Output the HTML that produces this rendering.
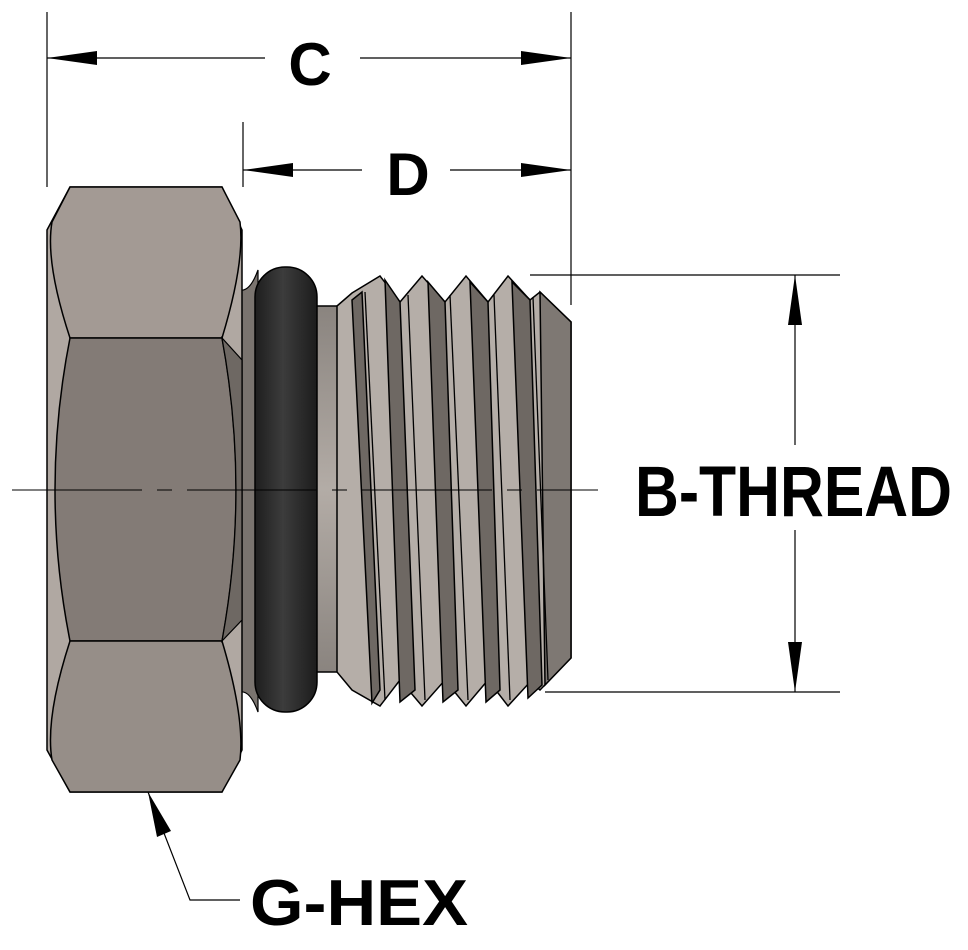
<!DOCTYPE html>
<html><head><style>html,body{margin:0;padding:0;background:#fff}svg{display:block}</style></head>
<body>
<svg width="968" height="950" viewBox="0 0 968 950" xmlns="http://www.w3.org/2000/svg" font-family="Liberation Sans, sans-serif" font-weight="bold">
<defs>
<linearGradient id="ring" x1="0" x2="1"><stop offset="0" stop-color="#1e1e1e"/><stop offset="0.45" stop-color="#3c3c3c"/><stop offset="1" stop-color="#1c1c1c"/></linearGradient>
<linearGradient id="neck" x1="0" y1="0" x2="0" y2="1"><stop offset="0" stop-color="#8a847f"/><stop offset="0.5" stop-color="#b3aca6"/><stop offset="1" stop-color="#8a847f"/></linearGradient>
</defs>
<g stroke="#000" stroke-width="1.2" fill="none">
<line x1="47" y1="12" x2="47" y2="187"/>
<line x1="571" y1="12" x2="571" y2="305"/>
<line x1="243" y1="122" x2="243" y2="187"/>
<line x1="530" y1="275" x2="840" y2="275"/>
<line x1="545" y1="692" x2="840" y2="692"/>
<line x1="47" y1="58" x2="265" y2="58"/><line x1="360" y1="58" x2="571" y2="58"/>
<line x1="243" y1="170" x2="362" y2="170"/><line x1="450" y1="170" x2="571" y2="170"/>
<line x1="795" y1="275" x2="795" y2="445"/><line x1="795" y1="530" x2="795" y2="692"/>
<polyline points="148,792 190,900 240,900"/>
</g>
<g fill="#000">
<polygon points="47,58 97,51 97,65"/><polygon points="571,58 521,51 521,65"/>
<polygon points="243,170 293,163 293,177"/><polygon points="571,170 521,163 521,177"/>
<polygon points="795,275 788,325 802,325"/><polygon points="795,692 788,642 802,642"/>
<polygon points="148,792 171,831 157,837"/>
</g>
<path d="M240,290 Q250,292 258,270 L258,712 Q250,690 240,692 Z" fill="#7a746f" stroke="#000" stroke-width="1.2"/>
<rect x="312" y="306" width="28" height="366" fill="url(#neck)" stroke="#000" stroke-width="1.5"/>
<path d="M337,306 L352,293 L380,276 L400,302 L422,276 L445,302 L466,276 L488,302 L508,276 L530,300 L540,292 L571,322 L571,658 L540,690 L530,682 L508,706 L488,680 L466,706 L445,680 L422,706 L400,680 L380,706 L352,690 L337,672 Z" fill="#b5aea8" stroke="#000" stroke-width="1.5"/>
<g fill="#6e6863" stroke="#000" stroke-width="1.5">
<path d="M352,300 L362,292 L380,690 L372,703 Z"/>
<path d="M385,280 L400,302 L415,690 L400,702 Z"/>
<path d="M428,282 L445,302 L458,690 L443,702 Z"/>
<path d="M470,282 L488,302 L500,690 L486,702 Z"/>
<path d="M512,282 L530,300 L542,685 L528,698 Z"/>
<path d="M540,292 L571,322 L571,658 L545,685 Z" fill="#7e7873"/>
</g>
<g stroke="#000" stroke-width="1.3" fill="none">
<line x1="365" y1="292" x2="385" y2="700"/><line x1="408" y1="295" x2="425" y2="700"/>
<line x1="450" y1="295" x2="468" y2="700"/><line x1="494" y1="295" x2="510" y2="700"/>
<line x1="533" y1="297" x2="548" y2="680"/>
</g>
<rect x="255" y="267" width="62" height="445" rx="30" fill="url(#ring)" stroke="#000" stroke-width="1.5"/>
<path d="M70,187 L222,187 L242,230 L242,750 L222,792 L70,792 L47,750 L47,230 Z" fill="#b0a8a2" stroke="#000" stroke-width="1.5"/>
<path d="M70,187 L222,187 L240,222 Q245,262 222,338 L70,338 Q45,262 52,222 Z" fill="#a39a94" stroke="#000" stroke-width="1.5"/>
<path d="M70,338 L222,338 Q250,490 222,641 L70,641 Q40,490 70,338 Z" fill="#837b76" stroke="#000" stroke-width="1.5"/>
<path d="M70,641 L222,641 Q245,718 240,760 L222,792 L70,792 L52,760 Q45,718 70,641 Z" fill="#968e88" stroke="#000" stroke-width="1.5"/>
<path d="M222,338 Q250,490 222,641 L242,620 L242,360 Z" fill="#6e6863" stroke="#000" stroke-width="1.2"/>
<line x1="12" y1="490" x2="598" y2="490" stroke="#000" stroke-width="1" stroke-dasharray="130,15,15,15"/>
<text x="310" y="85" font-size="60" text-anchor="middle">C</text>
<text x="408" y="195" font-size="60" text-anchor="middle">D</text>
<text x="635" y="516" font-size="71" textLength="317" lengthAdjust="spacingAndGlyphs">B-THREAD</text>
<text x="250" y="925" font-size="65" textLength="218" lengthAdjust="spacingAndGlyphs">G-HEX</text>
</svg>
</body></html>
